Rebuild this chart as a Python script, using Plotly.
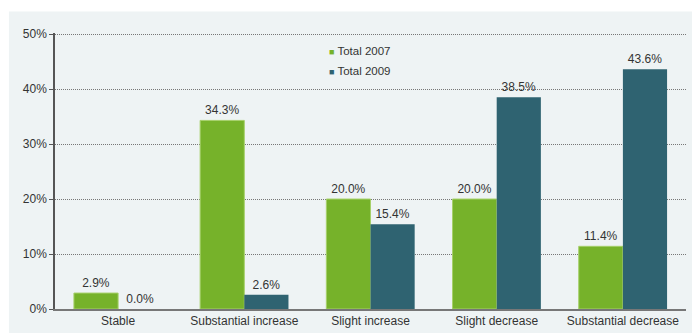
import plotly.graph_objects as go

categories = ["Stable", "Substantial increase", "Slight increase",
              "Slight decrease", "Substantial decrease"]
total_2007 = [2.9, 34.3, 20.0, 20.0, 11.4]
total_2009 = [0.0, 2.6, 15.4, 38.5, 43.6]
series_names = ["Total 2007", "Total 2009"]
y_ticks = [0, 10, 20, 30, 40, 50]
y_tick_labels = [f"{v}%" for v in y_ticks]

GREEN = "#76b22a"
GREEN_EDGE = "#a6d06a"
TEAL = "#2f6371"
PANEL = "#eef3f4"
TEXT = "#333333"
FONT = "Liberation Sans, Arial, sans-serif"

fig = go.Figure()
fig.add_trace(go.Bar(
    x=categories, y=total_2007, name=series_names[0],
    marker=dict(color=GREEN, line=dict(color=GREEN_EDGE, width=1)),
    texttemplate="%{y:.1f}%", textposition="outside",
    textfont=dict(size=12, color=TEXT, family=FONT),
    cliponaxis=False, showlegend=False,
))
fig.add_trace(go.Bar(
    x=categories, y=total_2009, name=series_names[1],
    marker=dict(color=TEAL, line=dict(width=0)),
    texttemplate="%{y:.1f}%", textposition="outside",
    textfont=dict(size=12, color=TEXT, family=FONT),
    cliponaxis=False, showlegend=False,
))

# light panel behind the chart
fig.add_shape(type="rect", xref="paper", yref="paper",
              x0=-0.073, x1=1.02, y0=-0.2, y1=1.078,
              fillcolor=PANEL, line=dict(width=0), layer="below")

# compact legend: small coloured squares next to the series names
for i, (name, col) in enumerate(zip(series_names, [GREEN, TEAL])):
    fig.add_annotation(
        xref="paper", yref="paper", x=0.431, y=0.935 - i * 0.073,
        xanchor="left", yanchor="middle", showarrow=False,
        text=f'<span style="color:{col};font-size:9px">■</span> {name}',
        font=dict(size=11.5, color=TEXT, family=FONT),
    )

fig.update_layout(
    width=692, height=333,
    margin=dict(l=55, r=6, t=33, b=24),
    paper_bgcolor="white", plot_bgcolor="rgba(0,0,0,0)",
    barmode="group", bargap=0.30, bargroupgap=0,
    font=dict(family=FONT, size=12, color=TEXT),
    showlegend=False,
)
fig.update_xaxes(
    showline=True, linecolor="#777777", linewidth=2,
    ticks="", showgrid=False,
    tickfont=dict(size=12, color=TEXT),
)
fig.update_yaxes(
    range=[0, 50.2], tickmode="array", tickvals=y_ticks, ticktext=y_tick_labels,
    showline=True, linecolor="#555555", linewidth=1.5,
    ticks="outside", ticklen=4, tickcolor="#555555",
    showgrid=True, gridcolor="#777777", griddash="1px,1px", gridwidth=1,
    zeroline=False,
    tickfont=dict(size=12, color=TEXT),
)

fig.write_html("out.html")
